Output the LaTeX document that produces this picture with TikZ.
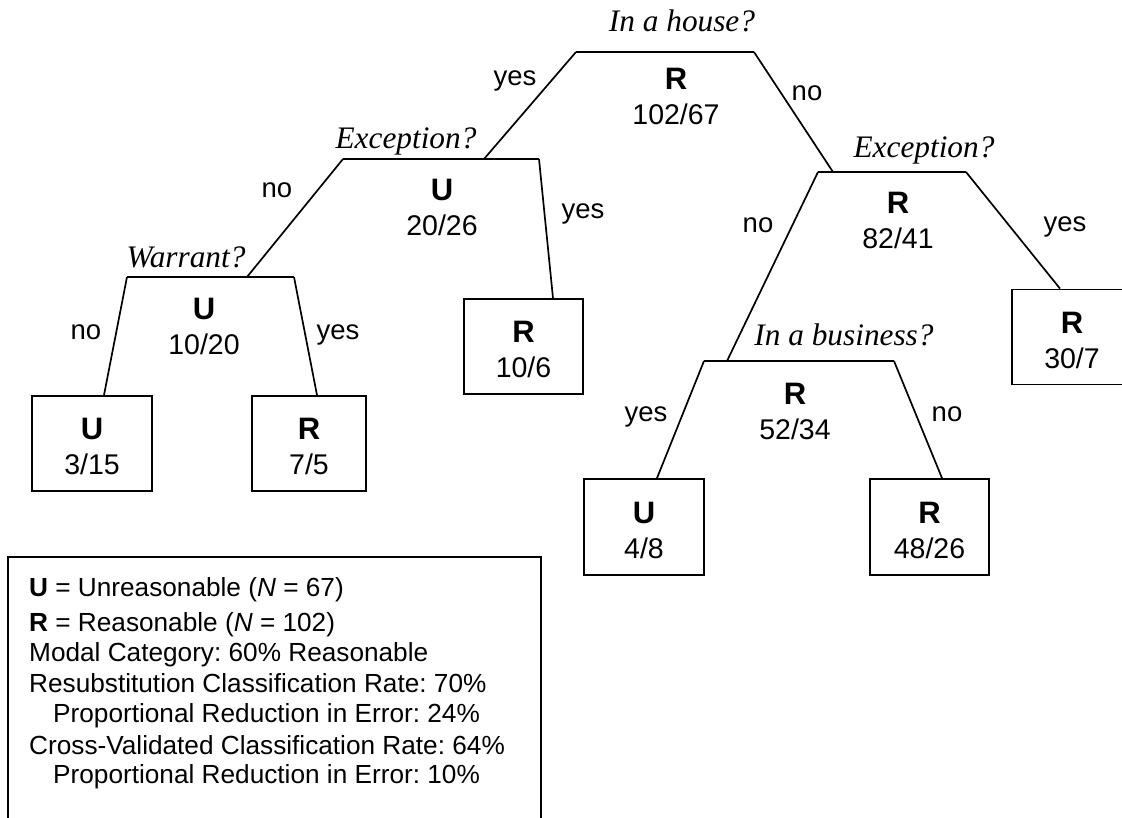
\documentclass[tikz,border=0pt]{standalone}
\usepackage{fontspec}
\setmainfont{Liberation Serif}
\setsansfont{Liberation Sans}
\usetikzlibrary{calc}
\frenchspacing
% class letter shown above each count pair
\newcommand\classlet[1]{{\fontsize{31}{35}\selectfont\bfseries #1}}
\begin{document}
\begin{tikzpicture}[x=1pt,y=-1pt,
  question/.style={anchor=base,inner sep=0pt,font=\rmfamily\itshape\fontsize{31.3}{31.3}\selectfont},
  branchlbl/.style={anchor=base,inner sep=0pt,font=\sffamily\fontsize{27.5}{27.5}\selectfont},
  stat/.style={align=center,inner sep=0pt,font=\sffamily\fontsize{28.5}{35}\selectfont},
  leafbox/.style={draw,line width=1.8pt,inner sep=0pt,minimum width=#1,minimum height=95pt},
  bar/.style={line width=2pt},
  branch/.style={line width=1.7pt},
  legendline/.style={anchor=base west,inner sep=0pt,font=\sffamily\fontsize{26.2}{26.2}\selectfont}
]
\clip (0,0) rectangle (1122,817);

% split bars: left end, entry point of the parent branch, right end
\coordinate (rootL) at (576,52);  \coordinate (rootR) at (754,52);
\coordinate (excaL) at (343,159); \coordinate (excaIn) at (484,159); \coordinate (excaR) at (539,159);
\coordinate (warL) at (127,277);  \coordinate (warIn) at (247,277);  \coordinate (warR) at (294,277);
\coordinate (excbL) at (818,172); \coordinate (excbIn) at (833,172); \coordinate (excbR) at (966,172);
\coordinate (busL) at (704,361);  \coordinate (busIn) at (727,361);  \coordinate (busR) at (894,361);

\draw[bar] (rootL) -- (rootR);
\draw[bar] (excaL) -- (excaR);
\draw[bar] (warL) -- (warR);
\draw[bar] (excbL) -- (excbR);
\draw[bar] (busL) -- (busR);

% split questions
\node[question] (qhouse) at (682,31) {In a house?};
\node[question] (qexca) at (406,148) {Exception?};
\node[question] (qwar) at (186,267) {Warrant?};
\node[question] (qexcb) at (924,157) {Exception?};
\node[question] (qbus) at (844,345) {In a business?};

% inner node statistics
\node[stat] (s1) at (676,96) {\classlet{R}\\102/67};
\node[stat] (s2) at (442,207) {\classlet{U}\\20/26};
\node[stat] (s3) at (204,326.5) {\classlet{U}\\10/20};
\node[stat] (s4) at (898,220.5) {\classlet{R}\\82/41};
\node[stat] (s5) at (795,411.5) {\classlet{R}\\52/34};

% terminal boxes
\node[leafbox=120pt] (b315) at (92,443.5) {};
\node[leafbox=114pt] (b75) at (309,443.5) {};
\node[leafbox=119pt] (b106) at (523.5,346.5) {};
\node[leafbox=120pt] (b307) at (1072,337) {};
\node[leafbox=120pt,minimum height=96pt] (b48) at (644,527) {};
\node[leafbox=119pt,minimum height=96pt] (b4826) at (929.5,527) {};

\node[stat] (t315) at ([yshift=-3pt]b315.center) {\classlet{U}\\3/15};
\node[stat] (t75) at ([yshift=-3pt]b75.center) {\classlet{R}\\7/5};
\node[stat] (t106) at ([yshift=-3pt]b106.center) {\classlet{R}\\10/6};
\node[stat] (t307) at ([yshift=-3pt]b307.center) {\classlet{R}\\30/7};
\node[stat] (t48) at ([yshift=-3pt]b48.center) {\classlet{U}\\4/8};
\node[stat] (t4826) at ([yshift=-3pt]b4826.center) {\classlet{R}\\48/26};

% branches
\draw[branch] (rootL) -- (excaIn);
\draw[branch] (rootR) -- (excbIn);
\draw[branch] (excaL) -- (warIn);
\draw[branch] (excaR) -- ([xshift=29.5pt]b106.north);
\draw[branch] (warL) -- ([xshift=12pt]b315.north);
\draw[branch] (warR) -- ([xshift=8pt]b75.north);
\draw[branch] (excbL) -- (busIn);
\draw[branch] (excbR) -- ([xshift=-12pt]b307.north);
\draw[branch] (busL) -- ([xshift=13pt]b48.north);
\draw[branch] (busR) -- ([xshift=12.5pt]b4826.north);

% branch labels
\node[branchlbl] (y1) at (515,85) {yes};
\node[branchlbl] (n1) at (807,100) {no};
\node[branchlbl] (n2) at (277,197) {no};
\node[branchlbl] (y2) at (583,218) {yes};
\node[branchlbl] (n3) at (86,339) {no};
\node[branchlbl] (y3) at (338,339) {yes};
\node[branchlbl] (n4) at (758,232) {no};
\node[branchlbl] (y4) at (1065,231) {yes};
\node[branchlbl] (y5) at (646,421) {yes};
\node[branchlbl] (n5) at (947,421) {no};

% legend
\draw[line width=1.8pt] (8,830) -- (8,557) -- (541,557) -- (541,830);
\node[legendline] (l1) at (29,596) {\textbf{U} = Unreasonable (\textit{N} = 67)};
\node[legendline] (l2) at (29,631) {\textbf{R} = Reasonable (\textit{N} = 102)};
\node[legendline] (l3) at (29,661) {Modal Category: 60\% Reasonable};
\node[legendline] (l4) at (29,692) {Resubstitution Classification Rate: 70\%};
\node[legendline] (l5) at (53,722) {Proportional Reduction in Error: 24\%};
\node[legendline] (l6) at (29,754) {Cross-Validated Classification Rate: 64\%};
\node[legendline] (l7) at (53,783) {Proportional Reduction in Error: 10\%};
\end{tikzpicture}
\end{document}
